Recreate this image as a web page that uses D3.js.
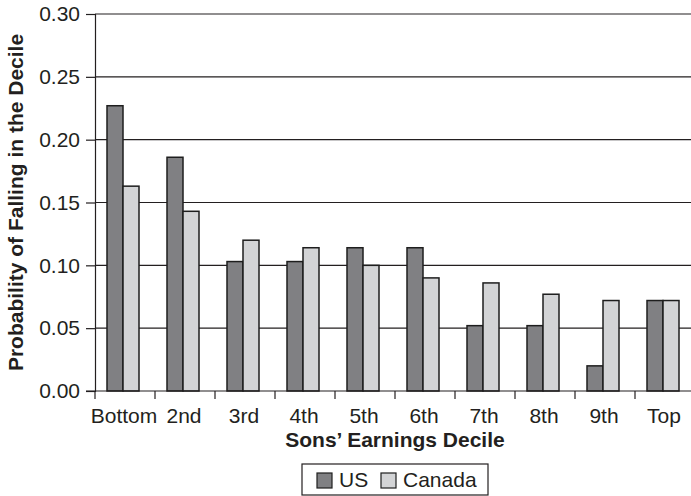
<!DOCTYPE html>
<html>
<head>
<meta charset="utf-8">
<script src="https://cdn.jsdelivr.net/npm/d3@7"></script>
<style>
  body { margin: 0; background: #fff; }
  text { font-family: "Liberation Sans", Arial, sans-serif; fill: #231f20; }
</style>
</head>
<body>
<div id="chart"></div>
<script>
'use strict';

// deciles and the two series
var deciles = ['Bottom', '2nd', '3rd', '4th', '5th', '6th', '7th', '8th', '9th', 'Top'];
var seriesNames = ['US', 'Canada'];
var usValues = [0.227, 0.186, 0.103, 0.103, 0.114, 0.114, 0.052, 0.052, 0.020, 0.072];
var canadaValues = [0.163, 0.143, 0.120, 0.114, 0.100, 0.090, 0.086, 0.077, 0.072, 0.072];
var yTicks = [0, 0.05, 0.10, 0.15, 0.20, 0.25, 0.30];

var width = 691, height = 496;
var plotLeft = 95, plotRight = 695, plotTop = 14, plotBottom = 391;
var colors = {US: '#808083', Canada: '#d3d4d6'};

var svg = d3.select('#chart').append('svg')
  .attr('width', width)
  .attr('height', height);

var x = d3.scaleBand().domain(deciles).range([plotLeft, plotRight]);
var xInner = d3.scaleBand().domain(seriesNames).range([12, 44]);
var y = d3.scaleLinear().domain([0, 0.30]).range([plotBottom, plotTop]);

// gridlines
svg.append('g').selectAll('line')
  .data(yTicks.filter(function(d){ return d > 0; }))
  .enter().append('line')
  .attr('x1', plotLeft).attr('x2', width)
  .attr('y1', function(d){ return y(d); })
  .attr('y2', function(d){ return y(d); })
  .attr('stroke', '#231f20').attr('stroke-width', 1.2);

// y axis
var yAxis = svg.append('g')
  .attr('transform', 'translate(' + plotLeft + ',0)')
  .call(d3.axisLeft(y).tickValues(yTicks).tickSize(9).tickPadding(6)
    .tickFormat(d3.format('.2f')));
yAxis.select('.domain').attr('stroke', '#231f20').attr('stroke-width', 1.2);
yAxis.selectAll('.tick line').attr('stroke', '#231f20').attr('stroke-width', 1.2);
yAxis.selectAll('text').style('font-size', '21px').attr('fill', '#231f20')
  .style('font-family', '"Liberation Sans", Arial, sans-serif');

// bars
var rows = deciles.map(function(d, i){
  return {decile: d, values: [{s: 'US', v: usValues[i]}, {s: 'Canada', v: canadaValues[i]}]};
});

var groups = svg.append('g').selectAll('g')
  .data(rows)
  .enter().append('g')
  .attr('transform', function(d){ return 'translate(' + x(d.decile) + ',0)'; });

groups.selectAll('rect')
  .data(function(d){ return d.values; })
  .enter().append('rect')
  .attr('x', function(d){ return xInner(d.s); })
  .attr('width', xInner.bandwidth())
  .attr('y', function(d){ return y(d.v); })
  .attr('height', function(d){ return plotBottom - y(d.v); })
  .attr('fill', function(d){ return colors[d.s]; })
  .attr('stroke', '#1e1e1e').attr('stroke-width', 1.5);

// x axis line and ticks at category boundaries
svg.append('line')
  .attr('x1', plotLeft - 9).attr('x2', width)
  .attr('y1', plotBottom).attr('y2', plotBottom)
  .attr('stroke', '#231f20').attr('stroke-width', 1.2);

svg.append('g').selectAll('line')
  .data(deciles)
  .enter().append('line')
  .attr('x1', function(d){ return x(d); })
  .attr('x2', function(d){ return x(d); })
  .attr('y1', plotBottom).attr('y2', plotBottom + 8)
  .attr('stroke', '#231f20').attr('stroke-width', 1.2);

svg.append('g').selectAll('text')
  .data(deciles)
  .enter().append('text')
  .attr('x', function(d){ return x(d) + x.bandwidth() / 2 - 1; })
  .attr('y', 423)
  .attr('text-anchor', 'middle')
  .style('font-size', '21px')
  .text(function(d){ return d; });

// axis titles
svg.append('text')
  .attr('x', (plotLeft + plotRight) / 2)
  .attr('y', 447)
  .attr('text-anchor', 'middle')
  .style('font-size', '21px').style('font-weight', 'bold')
  .text('Sons\u2019 Earnings Decile');

svg.append('text')
  .attr('transform', 'translate(23,' + ((plotTop + plotBottom) / 2) + ') rotate(-90)')
  .attr('text-anchor', 'middle')
  .style('font-size', '21px').style('font-weight', 'bold')
  .text('Probability of Falling in the Decile');

// legend
var legend = svg.append('g');
legend.append('rect')
  .attr('x', 302).attr('y', 464).attr('width', 186).attr('height', 31)
  .attr('fill', '#fff').attr('stroke', '#231f20').attr('stroke-width', 1.2);

var legendX = {US: 317, Canada: 381};
var items = legend.selectAll('g.item')
  .data(seriesNames)
  .enter().append('g').attr('class', 'item');
items.append('rect')
  .attr('x', function(d){ return legendX[d]; })
  .attr('y', 473).attr('width', 15).attr('height', 15)
  .attr('fill', function(d){ return colors[d]; })
  .attr('stroke', '#1e1e1e').attr('stroke-width', 1.2);
items.append('text')
  .attr('x', function(d){ return legendX[d] + 22; })
  .attr('y', 487)
  .style('font-size', '21px')
  .text(function(d){ return d; });
</script>
</body>
</html>
